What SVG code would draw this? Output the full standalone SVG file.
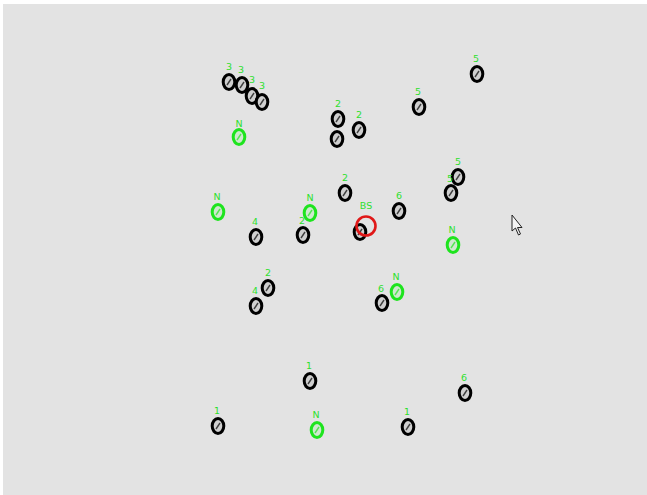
<svg xmlns="http://www.w3.org/2000/svg" width="647" height="495" viewBox="0 0 647 495">
<style>
.bg{fill:#e3e3e3}
.n{fill:#cfcfcf;stroke:#000;stroke-width:3}
.g{fill:#cfe8cf;stroke:#1ee41e;stroke-width:3}
text{font-family:"DejaVu Sans","Liberation Sans",sans-serif;font-size:9.5px;fill:#2ee02e;stroke:none;text-anchor:middle}
.bs circle{fill:none;stroke:#e01818;stroke-width:2.6}
</style>
<defs>
<g id="nd"><ellipse cx="0" cy="0" rx="5.8" ry="7.4"/><path d="M-2,3 L2,-3" fill="none" stroke-width="1.4" stroke-opacity="0.7"/></g>
</defs>
<rect class="bg" x="3" y="4" width="644" height="491"/>
<g id="connectors"/>
<g id="n1" class="n"><use href="#nd" x="229" y="82"/><text x="229" y="70">3</text></g>
<g id="n2" class="n"><use href="#nd" x="242" y="85"/><text x="241" y="73">3</text></g>
<g id="n3" class="n"><use href="#nd" x="252" y="96"/><text x="252" y="83">3</text></g>
<g id="n4" class="n"><use href="#nd" x="262" y="102"/><text x="262" y="89">3</text></g>
<g id="n5" class="g"><use href="#nd" x="239" y="137"/><text x="239" y="127">N</text></g>
<g id="n6" class="n"><use href="#nd" x="338" y="119"/><text x="338" y="107">2</text></g>
<g id="n7" class="n"><use href="#nd" x="337" y="139"/></g>
<g id="n8" class="n"><use href="#nd" x="359" y="130"/><text x="359" y="118">2</text></g>
<g id="n9" class="n"><use href="#nd" x="419" y="107"/><text x="418" y="95">5</text></g>
<g id="n10" class="n"><use href="#nd" x="477" y="74"/><text x="476" y="62">5</text></g>
<g id="n11" class="g"><use href="#nd" x="218" y="212"/><text x="217" y="200">N</text></g>
<g id="n12" class="n"><use href="#nd" x="256" y="237"/><text x="255" y="225">4</text></g>
<g id="n13" class="g"><use href="#nd" x="310" y="213"/><text x="310" y="201">N</text></g>
<g id="n14" class="n"><use href="#nd" x="303" y="235"/><text x="302" y="224">2</text></g>
<g id="n15" class="n"><use href="#nd" x="345" y="193"/><text x="345" y="181">2</text></g>
<g id="n16" class="n"><use href="#nd" x="399" y="211"/><text x="399" y="199">6</text></g>
<g id="n17" class="n"><use href="#nd" x="458" y="177"/><text x="458" y="165">5</text></g>
<g id="n18" class="n"><use href="#nd" x="451" y="193"/><text x="450" y="182">5</text></g>
<g id="n19" class="g"><use href="#nd" x="453" y="245"/><text x="452" y="233">N</text></g>
<g id="n20" class="n"><use href="#nd" x="360" y="232"/></g>
<g id="bs" class="bs"><circle cx="366" cy="226" r="9.5"/><text x="366" y="209" font-size="11">BS</text></g>
<g id="n21" class="n"><use href="#nd" x="268" y="288"/><text x="268" y="276">2</text></g>
<g id="n22" class="n"><use href="#nd" x="256" y="306"/><text x="255" y="294">4</text></g>
<g id="n23" class="n"><use href="#nd" x="382" y="303"/><text x="381" y="292">6</text></g>
<g id="n24" class="g"><use href="#nd" x="397" y="292"/><text x="396" y="280">N</text></g>
<g id="n25" class="n"><use href="#nd" x="310" y="381"/><text x="309" y="369">1</text></g>
<g id="n26" class="n"><use href="#nd" x="465" y="393"/><text x="464" y="381">6</text></g>
<g id="n27" class="n"><use href="#nd" x="218" y="426"/><text x="217" y="414">1</text></g>
<g id="n28" class="g"><use href="#nd" x="317" y="430"/><text x="316" y="418">N</text></g>
<g id="n29" class="n"><use href="#nd" x="408" y="427"/><text x="407" y="415">1</text></g>
<path d="M512,215 L512,231 L515.5,228 L518.5,235 L520.5,234 L517.5,227.5 L522,227.5 Z" fill="#f4f4f4" stroke="#222" stroke-width="1"/>
</svg>
